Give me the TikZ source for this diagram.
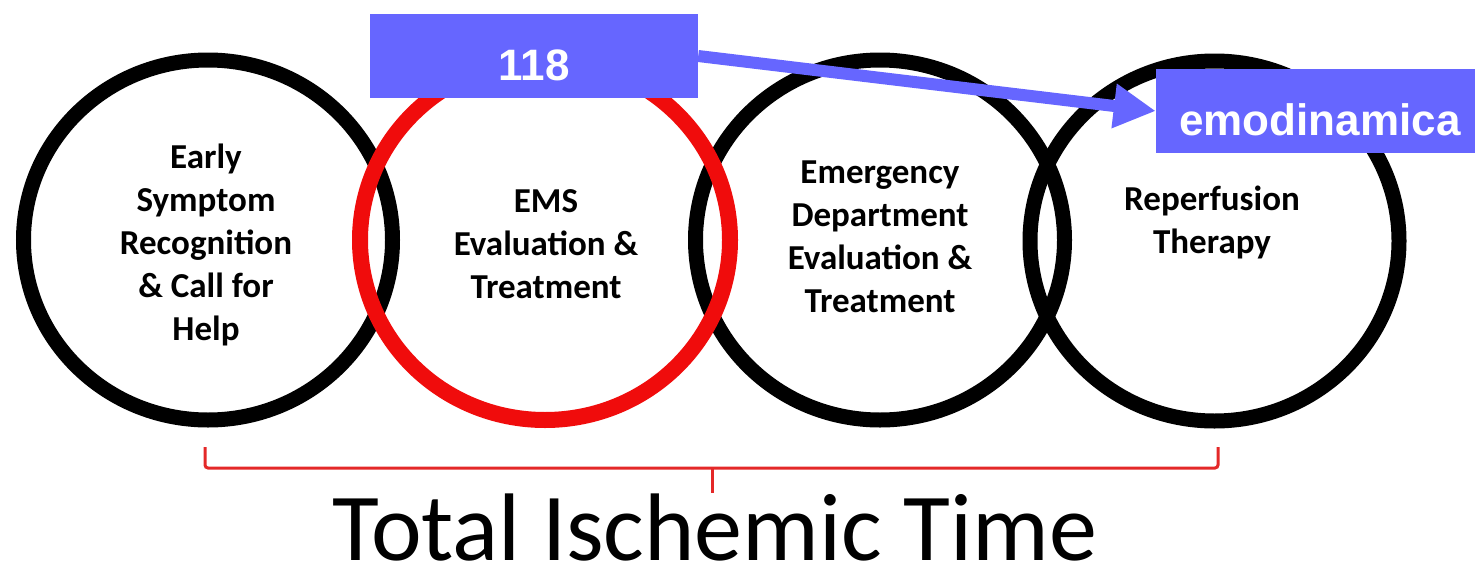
\documentclass[tikz,border=0pt]{standalone}
\usepackage{fontspec}
\setmainfont{Carlito}
\newfontfamily\boxfont{Liberation Sans}
\usetikzlibrary{arrows.meta}
\definecolor{boxblue}{RGB}{102,102,255}
\definecolor{ringred}{RGB}{240,12,12}
\definecolor{bracered}{RGB}{228,40,40}
\begin{document}
\begin{tikzpicture}[x=1pt,y=-1pt,
  ring/.style={line width=15pt, draw=black},
  redring/.style={line width=16pt, draw=ringred},
  lbl/.style={font=\bfseries\fontsize{35}{43}\selectfont, align=center, inner sep=0pt, anchor=base},
  tag/.style={fill=boxblue, text=white, font=\boxfont\bfseries\fontsize{44}{50}\selectfont,
    minimum width=328pt, text height=66pt, text depth=18pt, inner sep=0pt},
  link/.style={draw=boxblue, line width=12pt, -{Triangle[length=42pt,width=42pt]}},
  bracket/.style={draw=bracered, line width=3pt, rounded corners=3pt},
  title/.style={font=\fontsize{96}{110}\selectfont, inner sep=0pt, anchor=base}
]
\useasboundingbox[fill=white] (0,0) rectangle (1475,565);

% rings
\draw[ring] (208,240) ellipse [x radius=184.5, y radius=180];
\draw[ring] (880,240) ellipse [x radius=184.5, y radius=180];
\draw[ring] (1214.5,241) ellipse [x radius=184.5, y radius=180];
\draw[redring] (545,240) ellipse [x radius=185, y radius=180];

% ring texts (anchor = baseline of the last line)
\node[lbl] (t1) at (206,340) {Early\\Symptom\\Recognition\\\& Call for\\Help};
\node[lbl] (t2) at (546,298) {EMS\\Evaluation \&\\Treatment};
\node[lbl] (t3) at (880,312) {Emergency\\Department\\Evaluation \&\\Treatment};
\node[lbl] (t4) at (1212,253) {Reperfusion\\Therapy};

% bracket
\draw[bracket] (205,447) -- (205,468) -- (1218,468) -- (1218,447);
\draw[draw=bracered, line width=3pt] (712,468) -- (712,493);

% title
\node[title] (title) at (715,560) {Total Ischemic Time};

% tags
\node[tag] (b118) at (534,56) {118};
\node[tag] (bemo) at (1320,111) {emodinamica};
\draw[link] (b118.east) -- (bemo.west);
\end{tikzpicture}
\end{document}
